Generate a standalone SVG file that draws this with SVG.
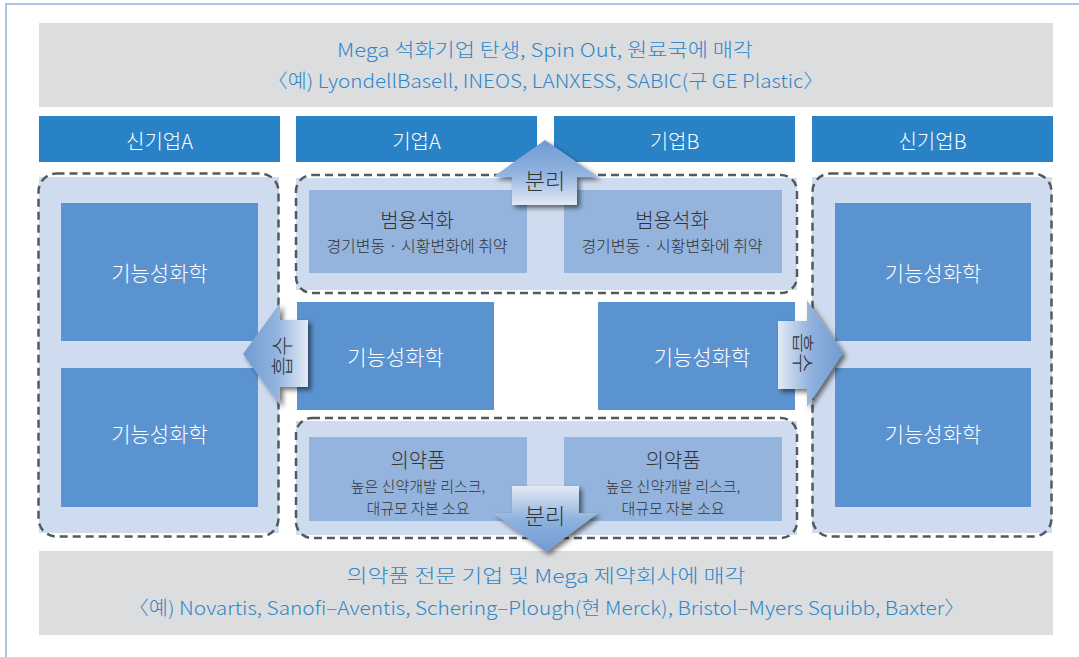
<svg xmlns="http://www.w3.org/2000/svg" width="1079" height="657" viewBox="0 0 1079 657">
<defs>
<style>
text{font-family:"Noto Sans CJK KR","Noto Sans",sans-serif;font-weight:300;text-anchor:middle;dominant-baseline:central}
.ban{fill:#dcdddf}
.bt{fill:#2f86c8;font-size:19px}
.hdr{fill:#2a82c6}
.ht{fill:#ffffff;font-size:20px}
.cf{fill:#cfdcef}
.cd{fill:none;stroke:#55585d;stroke-width:2.5;stroke-dasharray:8 5}
.db{fill:#5b93d0}
.dt{fill:#ffffff;font-size:21px}
.lb{fill:#94b4dd}
.t1{fill:#333333;font-size:20px}
.t2{fill:#333333;font-size:16px}
.t3{fill:#333333;font-size:15px}
.at{fill:#333333;font-size:22px}
</style>
<linearGradient id="gUp" x1="0" y1="0" x2="0" y2="1"><stop offset="0" stop-color="#6f9bd2"/><stop offset="0.5" stop-color="#90b2de"/><stop offset="1" stop-color="#e3eaf5"/></linearGradient>
<linearGradient id="gDown" x1="0" y1="1" x2="0" y2="0"><stop offset="0" stop-color="#6f9bd2"/><stop offset="0.5" stop-color="#90b2de"/><stop offset="1" stop-color="#e3eaf5"/></linearGradient>
<linearGradient id="gLeft" x1="0" y1="0" x2="1" y2="0"><stop offset="0" stop-color="#6f9bd2"/><stop offset="0.5" stop-color="#90b2de"/><stop offset="1" stop-color="#e3eaf5"/></linearGradient>
<linearGradient id="gRight" x1="1" y1="0" x2="0" y2="0"><stop offset="0" stop-color="#6f9bd2"/><stop offset="0.5" stop-color="#90b2de"/><stop offset="1" stop-color="#e3eaf5"/></linearGradient>
<filter id="sh" x="-30%" y="-30%" width="160%" height="160%"><feDropShadow dx="3" dy="3" stdDeviation="2.5" flood-color="#000000" flood-opacity="0.55"/></filter>
</defs>
<rect width="1079" height="657" fill="#ffffff"/>
<path d="M6 657V4H1079" fill="none" stroke="#a9c3e8" stroke-width="2"/>

<g id="top-banner">
<rect class="ban" x="39" y="23" width="1014" height="84"/>
<text class="bt" x="545" y="48" textLength="416" lengthAdjust="spacingAndGlyphs">Mega 석화기업 탄생, Spin Out, 원료국에 매각</text>
<text class="bt" x="545.5" y="79" textLength="557" lengthAdjust="spacingAndGlyphs">〈예) LyondellBasell, INEOS, LANXESS, SABIC(구 GE Plastic〉</text>
</g>

<g id="hdr-newA"><rect class="hdr" x="39" y="116" width="241" height="46"/><text class="ht" x="159.5" y="140">신기업A</text></g>
<g id="hdr-A"><rect class="hdr" x="296" y="116" width="241" height="46"/><text class="ht" x="416.5" y="140">기업A</text></g>
<g id="hdr-B"><rect class="hdr" x="554" y="116" width="241" height="46"/><text class="ht" x="674.5" y="140">기업B</text></g>
<g id="hdr-newB"><rect class="hdr" x="812" y="116" width="241" height="46"/><text class="ht" x="932.5" y="140">신기업B</text></g>

<g id="group-newA">
<rect class="cf" x="39" y="177" width="240" height="356"/>
<rect class="cd" x="38.5" y="173.5" width="240" height="363" rx="18"/>
</g>
<g id="newA-f1"><rect class="db" x="61" y="203" width="197" height="138"/><text class="dt" x="159.5" y="272">기능성화학</text></g>
<g id="newA-f2"><rect class="db" x="61" y="368" width="197" height="139"/><text class="dt" x="159.5" y="433">기능성화학</text></g>

<g id="group-newB">
<rect class="cf" x="812" y="177" width="240" height="356"/>
<rect class="cd" x="812.5" y="173.5" width="239" height="363" rx="18"/>
</g>
<g id="newB-f1"><rect class="db" x="835" y="203" width="196" height="138"/><text class="dt" x="933" y="272">기능성화학</text></g>
<g id="newB-f2"><rect class="db" x="835" y="368" width="196" height="139"/><text class="dt" x="933" y="433">기능성화학</text></g>

<g id="group-commodity">
<rect class="cf" x="296" y="178" width="501" height="112"/>
<rect class="cd" x="296" y="175" width="501" height="118" rx="16"/>
</g>
<g id="commodity-A"><rect class="lb" x="309" y="190" width="218" height="83"/><text class="t1" x="417" y="219">범용석화</text><text class="t2" x="417" y="245">경기변동 · 시황변화에 취약</text></g>
<g id="commodity-B"><rect class="lb" x="564" y="190" width="218" height="83"/><text class="t1" x="672" y="219">범용석화</text><text class="t2" x="672" y="245">경기변동 · 시황변화에 취약</text></g>

<g id="A-func"><rect class="db" x="297" y="302" width="197" height="108"/><text class="dt" x="395.5" y="356">기능성화학</text></g>
<g id="B-func"><rect class="db" x="598" y="302" width="197" height="108"/><text class="dt" x="702" y="356">기능성화학</text></g>

<g id="group-pharma">
<rect class="cf" x="296" y="421" width="501" height="114"/>
<rect class="cd" x="296" y="418" width="501" height="120" rx="16"/>
</g>
<g id="pharma-A"><rect class="lb" x="309" y="437" width="218" height="84"/><text class="t1" x="418" y="459">의약품</text><text class="t3" x="418" y="485">높은 신약개발 리스크,</text><text class="t3" x="418" y="507">대규모 자본 소요</text></g>
<g id="pharma-B"><rect class="lb" x="564" y="437" width="218" height="84"/><text class="t1" x="673" y="459">의약품</text><text class="t3" x="673" y="485">높은 신약개발 리스크,</text><text class="t3" x="673" y="507">대규모 자본 소요</text></g>

<g id="bottom-banner">
<rect class="ban" x="39" y="551" width="1014" height="84"/>
<text class="bt" x="546" y="574" textLength="399" lengthAdjust="spacingAndGlyphs">의약품 전문 기업 및 Mega 제약회사에 매각</text>
<text class="bt" x="546.5" y="606" textLength="837" lengthAdjust="spacingAndGlyphs">〈예) Novartis, Sanofi–Aventis, Schering–Plough(현 Merck), Bristol–Myers Squibb, Baxter〉</text>
</g>

<g id="connectors">
<g id="arrow-split-up">
<polygon points="545,140 598,177 577,177 577,205 512,205 512,177 493,177" fill="url(#gUp)" filter="url(#sh)"/>
<text class="at" x="545" y="179">분리</text>
</g>
<g id="arrow-split-down">
<polygon points="512,486 579,486 579,513 598,513 546,552 493,513 512,513" fill="url(#gDown)" filter="url(#sh)"/>
<text class="at" x="545" y="514">분리</text>
</g>
<g id="arrow-absorb-left">
<polygon points="243,354 280,303 280,320 308,320 308,387 280,387 280,405" fill="url(#gLeft)" filter="url(#sh)"/>
<text class="at" x="0" y="0" transform="translate(280,356) rotate(-90)">흡수</text>
</g>
<g id="arrow-absorb-right">
<polygon points="778,321 807,321 807,300 843,353 807,407 807,389 778,389" fill="url(#gRight)" filter="url(#sh)"/>
<text class="at" x="0" y="0" transform="translate(805,353) rotate(90)">흡수</text>
</g>
</g>
</svg>
